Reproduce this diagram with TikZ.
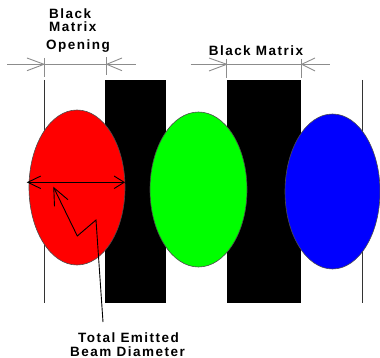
\documentclass[tikz,border=0pt]{standalone}
\usepackage{fontspec}
\setmainfont{Liberation Sans}[LetterSpace=11]
\usetikzlibrary{shapes.geometric,arrows.meta}
\definecolor{dimgray}{RGB}{140,140,140}
\definecolor{pureRed}{RGB}{255,0,0}
\definecolor{pureGreen}{RGB}{0,255,0}
\definecolor{pureBlue}{RGB}{0,0,255}
\tikzset{
  lbl/.style={inner sep=0pt, font=\fontsize{13.5}{14}\selectfont\bfseries},
  dimline/.style={draw=dimgray, line width=0.9pt},
  beam/.style={ellipse, draw=black!70, line width=0.6pt, inner sep=0pt,
    minimum width=96pt, minimum height=155pt},
  matrixbar/.style={fill=black},
  edge/.style={draw=black!80, line width=0.9pt},
  barb/.style={line width=0.9pt},
}
\begin{document}
\begin{tikzpicture}[x=1pt,y=-1pt]
\useasboundingbox (0,0) rectangle (380,358);
% vertical boundary lines
\draw[edge] (44,80) -- (44,303);
\draw[edge] (362,80) -- (362,303);
% black matrix bars
\fill[matrixbar] (105,80) rectangle (166,303);
\fill[matrixbar] (227,80) rectangle (301,303);
% beams
\node[beam, fill=pureRed] (red) at (77,187.5) {};
\node[beam, fill=pureGreen, minimum width=97pt] (green) at (198.5,189.5) {};
\node[beam, fill=pureBlue, minimum width=95pt] (blue) at (332.5,191.5) {};
% labels
\node[lbl, anchor=base west] (t1) at (49,18.3) {Black};
\node[lbl, anchor=base west] (t2) at (49,32) {Matrix};
\node[lbl, anchor=base west] (t3) at (46,49.3) {Opening};
\node[lbl, anchor=base] (bm) at (256,56) {Black Matrix};
\node[lbl, anchor=base] (te1) at (128.5,342) {Total Emitted};
\node[lbl, anchor=base] (te2) at (127.5,356) {Beam Diameter};
% dimension 1 (opening)
\coordinate (d1a) at (44,64.3);
\coordinate (d1b) at (106.7,64.3);
\draw[dimline] (7,64.3) -- (136,64.3);
\draw[dimline] (44,58) -- (44,77);
\draw[dimline] (106.7,57) -- (106.7,75);
\draw[dimline] (27,58) -- (d1a) -- (27,70.7);
\draw[dimline] (122,58) -- (d1b) -- (122,70.7);
% dimension 2 (black matrix)
\coordinate (d2a) at (226.7,64.3);
\coordinate (d2b) at (301.7,64.3);
\draw[dimline] (190.7,64.3) -- (330,64.3);
\draw[dimline] (226.7,59) -- (226.7,78);
\draw[dimline] (301.7,59) -- (301.7,78);
\draw[dimline] (209,58) -- (d2a) -- (209,71);
\draw[dimline] (315,58) -- (d2b) -- (315,71);
% beam diameter arrow
\coordinate (ra) at (26.7,182.3);
\coordinate (rb) at (125,182.3);
\draw[barb, {Straight Barb[length=13pt,width=12.5pt]}-{Straight Barb[length=10pt,width=12.5pt]}] (ra) -- (rb);
% pointer
\coordinate (p0) at (103,322);
\coordinate (tip) at (53.3,186.7);
\draw[barb, -{Straight Barb[length=17pt,width=15pt]}] (p0) -- (96,220) -- (77.3,236) -- (tip);
\end{tikzpicture}
\end{document}
